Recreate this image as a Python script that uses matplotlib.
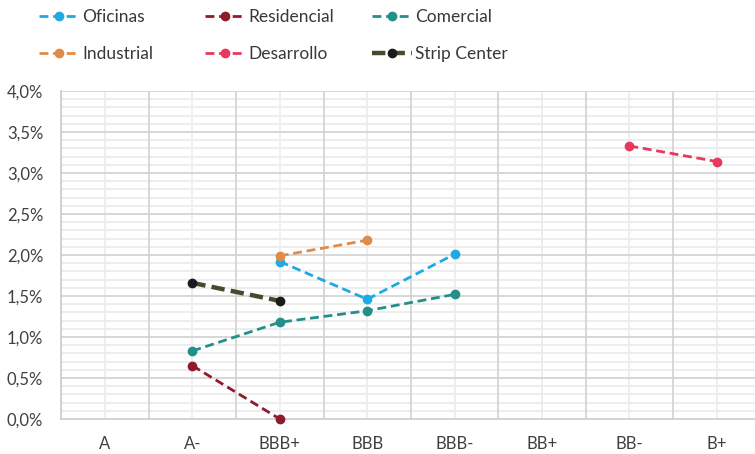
import numpy as np
import matplotlib
matplotlib.use("Agg")
import matplotlib.pyplot as plt
from matplotlib.ticker import FuncFormatter, MultipleLocator
from matplotlib.lines import Line2D

nan = np.nan
categories = ["A", "A-", "BBB+", "BBB", "BBB-", "BB+", "BB-", "B+"]
oficinas = [nan, nan, 1.92, 1.46, 2.01, nan, nan, nan]
residencial = [nan, 0.65, 0.0, nan, nan, nan, nan, nan]
comercial = [nan, 0.83, 1.18, 1.32, 1.52, nan, nan, nan]
industrial = [nan, nan, 1.99, 2.18, nan, nan, nan, nan]
desarrollo = [nan, nan, nan, nan, nan, nan, 3.33, 3.14]
strip_center = [nan, 1.66, 1.44, nan, nan, nan, nan, nan]

plt.rcParams['font.family'] = ['Lato', 'DejaVu Sans']

W, H = 755, 454
fig = plt.figure(figsize=(W/100, H/100), dpi=100)
left_px, bottom_px, top_px = 61.3, 419, 91
ax = fig.add_axes([left_px/W, (H-bottom_px)/H, (W-left_px)/W, (bottom_px-top_px)/H])

cw = 87.4
ax.set_xlim(-0.5, -0.5 + (W-left_px)/cw)
ax.set_ylim(0, 4.0)

x = np.arange(len(categories))

# grid
ax.set_xticks(x)
ax.set_xticklabels(categories)
for b in np.arange(len(categories)+1) - 0.5:
    ax.axvline(b, color='#d4d4d4', lw=1.3, zorder=1)
for c in x:
    ax.axvline(c, color='#ededed', lw=1.3, zorder=0.5)
for v in np.arange(0.1, 4.0001, 0.1):
    major = abs(v*2 - round(v*2)) < 1e-6
    ax.axhline(v, color='#d4d4d4' if major else '#ececec', lw=1.3, zorder=1 if major else 0.5)

ax.yaxis.set_major_locator(MultipleLocator(0.5))
ax.yaxis.set_major_formatter(FuncFormatter(lambda v, p: f"{v:.1f}".replace('.', ',') + "%"))
ax.tick_params(axis='both', length=0, labelsize=12, labelcolor='#404040')
ax.tick_params(axis='y', pad=13)
ax.tick_params(axis='x', pad=12)
for s in ['top', 'right']:
    ax.spines[s].set_visible(False)
for s in ['left', 'bottom']:
    ax.spines[s].set_color('#d0d0d0')
    ax.spines[s].set_linewidth(1.3)

series = [
    ("Oficinas", oficinas, '#1eaae3', '#1eaae3', 2.0, (3.2, 1.7)),
    ("Residencial", residencial, '#8e1b2c', '#8e1b2c', 2.0, (3.2, 1.7)),
    ("Comercial", comercial, '#22908a', '#22908a', 2.0, (3.2, 1.7)),
    ("Industrial", industrial, '#e08b47', '#e08b47', 2.0, (3.2, 1.7)),
    ("Desarrollo", desarrollo, '#e8395c', '#e8395c', 2.0, (3.2, 1.7)),
    ("Strip Center", strip_center, '#484a2e', '#1b1b1b', 3.2, (3.0, 1.4)),
]
handles = []
for name, vals, lc, mc, lw, dash in series:
    ax.plot(x, vals, color=lc, lw=lw, dashes=dash, marker='o', ms=6,
            markerfacecolor=mc, markeredgecolor=mc, zorder=3, clip_on=False)
    handles.append(Line2D([], [], color=lc, lw=lw, dashes=dash, marker='o', ms=6,
                          markerfacecolor=mc, markeredgecolor=mc))

col_x = [39, 205, 372]
for i in range(3):
    hs = [handles[i], handles[i+3]]
    ls = [series[i][0], series[i+3][0]]
    fig.legend(hs, ls, loc='upper left', bbox_to_anchor=(col_x[i]/W, 1 - 9/H),
               frameon=False, fontsize=12.5, handlelength=2.3, handletextpad=0.2,
               labelspacing=1.2, borderpad=0, borderaxespad=0, labelcolor='#383838')

fig.savefig("out.png", dpi=100)
